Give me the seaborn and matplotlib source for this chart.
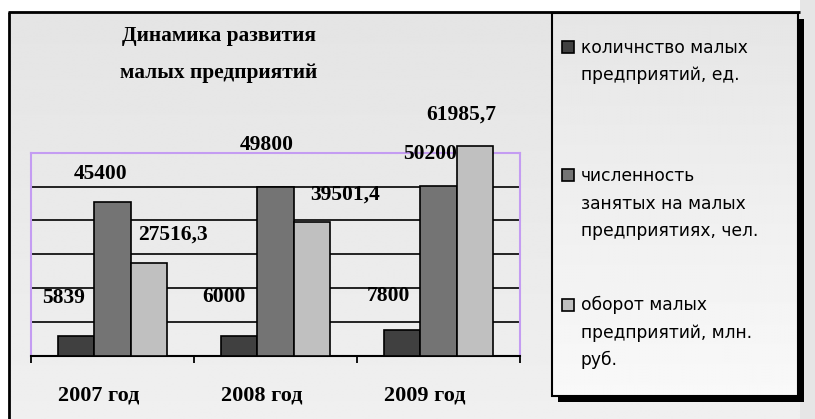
import numpy as np
import pandas as pd
import matplotlib
matplotlib.use("Agg")
import matplotlib.pyplot as plt
from matplotlib.patches import Rectangle
from matplotlib.transforms import ScaledTranslation
import seaborn as sns

# ---- data ----
years = ["2007 год", "2008 год", "2009 год"]
series = [
    "количнство малых\nпредприятий, ед.",
    "численность\nзанятых на малых\nпредприятиях, чел.",
    "оборот малых\nпредприятий, млн.\nруб.",
]
firms = [5839, 6000, 7800]
employed = [45400, 49800, 50200]
turnover = [27516.3, 39501.4, 61985.7]
title = "Динамика развития\nмалых предприятий"

colors = ["#404040", "#747474", "#c0c0c0"]

df = pd.DataFrame({
    "year": years * 3,
    "series": [series[0]] * 3 + [series[1]] * 3 + [series[2]] * 3,
    "value": firms + employed + turnover,
})

W, H, DPI = 815, 419, 100
fig = plt.figure(figsize=(W / DPI, H / DPI), dpi=DPI)
fig.patch.set_facecolor("white")

SERIF = ["Liberation Serif", "DejaVu Serif"]
SANS = ["DejaVu Sans"]

# ---- background panel in pixel coordinates ----
bg = fig.add_axes([0, 0, 1, 1], zorder=-5)
bg.set_xlim(0, W)
bg.set_ylim(H, 0)
bg.axis("off")
grad = np.linspace(0.895, 0.94, 256)[:, None] * np.ones((1, 2))
bg.imshow(grad, cmap="gray", vmin=0, vmax=1, extent=(9, 800, H + 5, 12),
          aspect="auto", interpolation="bilinear")
bg.add_patch(Rectangle((800, -5), 30, H + 10, facecolor="#e6e6e6",
                       edgecolor="none", zorder=0))
bg.plot([9, 9], [12, H + 5], color="black", lw=2, solid_capstyle="butt")
bg.plot([8, 800], [12, 12], color="black", lw=2, solid_capstyle="butt")

# legend box with drop shadow
lx0, ly0, lx1, ly1 = 552, 13, 798, 396
bg.add_patch(Rectangle((lx0 + 6, ly0 + 6), lx1 - lx0, ly1 - ly0,
                       facecolor="black", edgecolor="none", zorder=2))
lgrad = np.linspace(0.90, 0.975, 256)[:, None] * np.ones((1, 2))
bg.imshow(lgrad, cmap="gray", vmin=0, vmax=1, extent=(lx0, lx1, ly1, ly0),
          aspect="auto", interpolation="bilinear", zorder=3)
bg.add_patch(Rectangle((lx0, ly0), lx1 - lx0, ly1 - ly0,
                       facecolor="none", edgecolor="black", lw=1.5, zorder=4))

item_y = [48, 176, 305]
for name, col, y0 in zip(series, colors, item_y):
    bg.add_patch(Rectangle((562, y0 - 6.5), 12, 12, facecolor=col,
                           edgecolor="black", lw=1.2, zorder=5))
    for k, line in enumerate(name.split("\n")):
        bg.text(581, y0 + k * 27.5, line, fontsize=12.3, family=SANS,
                va="center", ha="left", color="black", zorder=5)

# title
for k, line in enumerate(title.split("\n")):
    bg.text(219, 36 + k * 37, line, fontsize=15.4, family=SERIF,
            fontweight="bold", ha="center", va="center", zorder=5)

# ---- bar chart ----
ax = fig.add_axes([31 / W, 1 - 356 / H, 489 / W, (356 - 152.7) / H])
ax.set_facecolor("none")
sns.barplot(data=df, x="year", y="value", hue="series", hue_order=series,
            palette=colors, saturation=1, width=0.663, edgecolor="black",
            linewidth=1.2, legend=False, ax=ax, zorder=3)

ax.set_xlim(-0.5, 2.5)
ax.set_ylim(0, 60000)
ax.set_yticks([10000, 20000, 30000, 40000, 50000])
ax.yaxis.grid(True, color="black", lw=1.2)
ax.set_axisbelow(True)
ax.tick_params(axis="y", length=0, labelleft=False)
ax.set_xlabel("")
ax.set_ylabel("")

for side in ["left", "top", "right"]:
    ax.spines[side].set_color("#c49cf2")
    ax.spines[side].set_linewidth(1.5)
ax.spines["bottom"].set_color("black")
ax.spines["bottom"].set_linewidth(1.5)

ax.set_xticks([-0.5, 0.5, 1.5, 2.5], minor=True)
ax.tick_params(axis="x", which="minor", length=5, width=1.3, direction="out")
ax.tick_params(axis="x", which="major", length=0, pad=21)
shift = ScaledTranslation(-14 / DPI, 0, fig.dpi_scale_trans)
for lab in ax.get_xticklabels():
    lab.set_fontfamily(SERIF)
    lab.set_fontweight("bold")
    lab.set_fontsize(16)
    lab.set_transform(lab.get_transform() + shift)

# value labels, offsets in pixels from the top centre of each bar
offsets = [
    [(-13, 38), (-16, 39), (-14, 34)],
    [(-12, 28), (-9, 42), (-8, 32)],
    [(24, 28), (34, 28), (-13, 31)],
]


def fmt(v):
    return str(int(v)) if float(v).is_integer() else f"{v:.1f}".replace(".", ",")


for cont, offs in zip(ax.containers, offsets):
    for bar, (dx, dy) in zip(cont, offs):
        bar.set_clip_on(False)
        xc = bar.get_x() + bar.get_width() / 2
        h = bar.get_height()
        ax.annotate(fmt(h), (xc, h), xytext=(dx, dy), textcoords="offset pixels",
                    ha="center", va="center", fontsize=15.5, family=SERIF,
                    fontweight="bold", annotation_clip=False, zorder=6)

fig.savefig("out.png", dpi=DPI)
